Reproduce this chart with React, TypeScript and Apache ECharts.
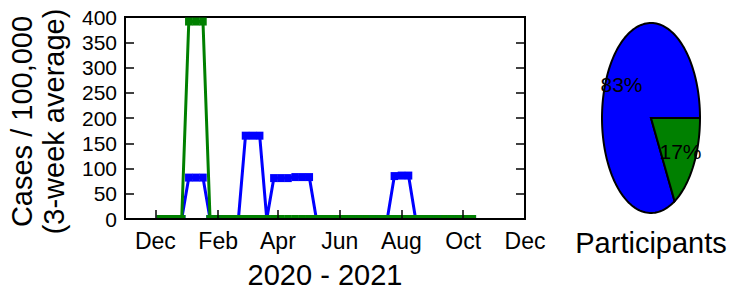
import React, { useEffect, useRef } from "react";
import * as echarts from "echarts";

const FONT = "Liberation Sans, Arial, Helvetica, sans-serif";

// Weekly dates (3-week averages)
const weekDates = [
  "2020-12-06", "2020-12-13", "2020-12-20", "2020-12-27",
  "2021-01-03", "2021-01-10", "2021-01-17", "2021-01-24", "2021-01-31",
  "2021-02-07", "2021-02-14", "2021-02-21", "2021-02-28",
  "2021-03-07", "2021-03-14", "2021-03-21", "2021-03-28",
  "2021-04-04", "2021-04-11", "2021-04-18", "2021-04-25",
  "2021-05-02", "2021-05-09", "2021-05-16", "2021-05-23", "2021-05-30",
  "2021-06-06", "2021-06-13", "2021-06-20", "2021-06-27",
  "2021-07-04", "2021-07-11", "2021-07-18", "2021-07-25",
  "2021-08-01", "2021-08-08", "2021-08-15", "2021-08-22", "2021-08-29",
  "2021-09-05", "2021-09-12", "2021-09-19", "2021-09-26",
  "2021-10-03", "2021-10-10",
];

const blueValues = [
  0, 0, 0, 0,
  82, 82, 82, 0, 0,
  0, 0, 0, 165,
  165, 165, 0, 81,
  81, 81, 83, 83,
  83, 0, 0, 0, 0,
  0, 0, 0, 0,
  0, 0, 0, 85,
  86, 86, 0, 0, 0,
  0, 0, 0, 0,
  0, 0,
];

const greenValues = [
  0, 0, 0, 0,
  391, 391, 391, 0, 0,
  0, 0, 0, 0,
  0, 0, 0, 0,
  0, 0, 0, 0,
  0, 0, 0, 0, 0,
  0, 0, 0, 0,
  0, 0, 0, 0,
  0, 0, 0, 0, 0,
  0, 0, 0, 0,
  0, 0,
];

const xRange = ["2020-11-01", "2021-12-01"];
const tickDates = ["2020-12-01", "2021-02-01", "2021-04-01", "2021-06-01", "2021-08-01", "2021-10-01", "2021-12-01"];
const tickLabels = ["Dec", "Feb", "Apr", "Jun", "Aug", "Oct", "Dec"];

const pieNames = ["Blue", "Green"];
const pieValues = [83, 17];
const pieColors = ["#0000ff", "#008000"];

const toTime = (s: string) => {
  const [y, m, d] = s.split("-").map(Number);
  return new Date(y, m - 1, d).getTime();
};

export default function App() {
  const ref = useRef<HTMLDivElement>(null);

  useEffect(() => {
    if (!ref.current) return;
    const chart = echarts.init(ref.current, undefined, { renderer: "svg" });
    const tickTimes = tickDates.map(toTime);
    const total = pieValues.reduce((a, b) => a + b, 0);

    const option: any = {
      animation: false,
      backgroundColor: "#fff",
      textStyle: { fontFamily: FONT },
      grid: [
        {
          left: 125, top: 17, width: 400, height: 202,
          outerBoundsMode: "none", containLabel: false,
          show: true, borderColor: "#000", borderWidth: 2, backgroundColor: "transparent",
        },
        { left: 602, top: 23, width: 98, height: 190, outerBoundsMode: "none", containLabel: false },
      ],
      xAxis: [
        {
          type: "value",
          gridIndex: 0,
          min: toTime(xRange[0]),
          max: toTime(xRange[1]),
          z: 5,
          axisLine: { show: true, lineStyle: { color: "#000", width: 2 } },
          axisTick: {
            show: true, inside: true, length: 9,
            customValues: tickTimes,
            lineStyle: { color: "#000", width: 1.5 },
          },
          axisLabel: {
            customValues: tickTimes,
            fontSize: 23, color: "#000", fontFamily: FONT, margin: 10,
            formatter: (v: number) => {
              let best = -1;
              tickTimes.forEach((t, i) => { if (Math.abs(t - v) < 43200000) best = i; });
              return best >= 0 ? tickLabels[best] : "";
            },
          },
          splitLine: { show: false },
          name: "2020 - 2021",
          nameLocation: "middle",
          nameGap: 39,
          nameTextStyle: { fontSize: 29, lineHeight: 33, color: "#000", fontFamily: FONT },
        },
        {
          type: "value",
          gridIndex: 1,
          min: -1, max: 1,
          axisLine: { show: false },
          axisTick: { show: false },
          axisLabel: { show: false },
          splitLine: { show: false },
          name: "Participants",
          nameLocation: "middle",
          nameGap: 13,
          nameTextStyle: { fontSize: 29, lineHeight: 33, color: "#000", fontFamily: FONT },
        },
      ],
      yAxis: [
        {
          type: "value",
          gridIndex: 0,
          min: 0, max: 400, interval: 50,
          z: 5,
          axisLine: { show: false },
          axisTick: { show: true, inside: true, length: 9, lineStyle: { color: "#000", width: 1.5 } },
          axisLabel: { fontSize: 21, color: "#000", fontFamily: FONT, margin: 8 },
          splitLine: { show: false },
          name: "Cases / 100,000\n(3-week average)",
          nameLocation: "middle",
          nameRotate: 90,
          nameGap: 55,
          nameTextStyle: { fontSize: 29, lineHeight: 32, color: "#000", fontFamily: FONT, padding: [0, 7, 0, 0] },
        },
        {
          type: "value",
          gridIndex: 0,
          position: "right",
          min: 0, max: 400, interval: 50,
          z: 5,
          axisLine: { show: false },
          axisTick: { show: true, inside: true, length: 9, lineStyle: { color: "#000", width: 1.5 } },
          axisLabel: { show: false },
          splitLine: { show: false },
        },
        {
          type: "value",
          gridIndex: 1,
          min: -1, max: 1,
          show: false,
        },
      ],
      series: [
        {
          type: "line",
          name: "Blue",
          xAxisIndex: 0, yAxisIndex: 0,
          data: weekDates.map((d, i) => [toTime(d), blueValues[i]]),
          lineStyle: { color: "#0000ff", width: 3 },
          itemStyle: { color: "#0000ff" },
          symbol: "rect",
          symbolSize: [7.5, 8],
          showAllSymbol: true,
          z: 2,
        },
        {
          type: "line",
          name: "Green",
          xAxisIndex: 0, yAxisIndex: 0,
          data: weekDates.map((d, i) => [toTime(d), greenValues[i]]),
          lineStyle: { color: "#008000", width: 3 },
          itemStyle: { color: "#008000" },
          symbol: "rect",
          symbolSize: [7.5, 8],
          showAllSymbol: true,
          z: 3,
        },
        {
          type: "custom",
          name: "Participants",
          coordinateSystem: "cartesian2d",
          xAxisIndex: 1, yAxisIndex: 2,
          data: pieValues.map((v, i) => ({ name: pieNames[i], value: [0, 0, v] })),
          renderItem: (params: any, api: any) => {
            const idx = params.dataIndex;
            let before = 0;
            for (let k = 0; k < idx; k++) before += pieValues[k];
            const val = api.value(2);
            const a0 = (before / total) * Math.PI * 2;
            const a1 = ((before + val) / total) * Math.PI * 2;
            const n = Math.max(4, Math.ceil(((a1 - a0) / (Math.PI * 2)) * 180));
            const pts: number[][] = [api.coord([0, 0])];
            for (let k = 0; k <= n; k++) {
              const a = a0 + ((a1 - a0) * k) / n;
              pts.push(api.coord([Math.cos(a), Math.sin(a)]));
            }
            const mid = (a0 + a1) / 2;
            const lp = api.coord([0.7 * Math.cos(mid), 0.7 * Math.sin(mid)]);
            return {
              type: "group",
              children: [
                {
                  type: "polygon",
                  shape: { points: pts },
                  style: { fill: pieColors[idx], stroke: "#000", lineWidth: 2, lineJoin: "miter" },
                },
                {
                  type: "text",
                  z2: 10,
                  style: {
                    text: Math.round((val / total) * 100) + "%",
                    x: lp[0], y: lp[1],
                    align: "center", verticalAlign: "middle",
                    fontSize: 21, fontFamily: FONT, fill: "#000",
                  },
                },
              ],
            };
          },
        },
      ],
      graphic: {
        elements: [
          { type: "rect", z: 4, shape: { x: 120, y: 220, width: 410, height: 5 }, style: { fill: "#fff" } },
        ],
      },
    };

    chart.setOption(option);
    return () => chart.dispose();
  }, []);

  return (
    <div
      ref={ref}
      style={{ position: "fixed", left: 0, top: 0, width: 730, height: 289, background: "#fff" }}
    />
  );
}
